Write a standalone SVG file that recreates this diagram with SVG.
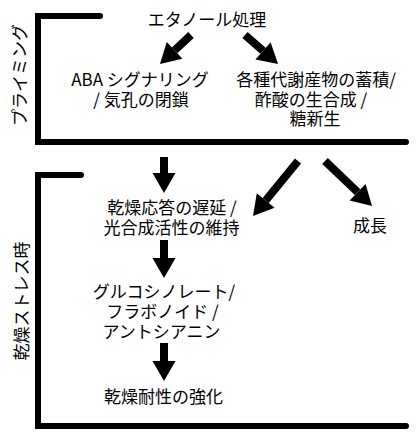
<svg xmlns="http://www.w3.org/2000/svg" width="420" height="440" viewBox="0 0 420 440">
<style>
text{font-family:"Noto Sans CJK JP","Noto Sans",sans-serif;font-size:17px;fill:#000;text-anchor:middle}
.br{fill:none;stroke:#000;stroke-width:6;stroke-linecap:round;stroke-linejoin:miter}
.ar{stroke:#000;stroke-width:8;fill:none;marker-end:url(#ah)}
.vl{dominant-baseline:central}
</style>
<defs>
<marker id="ah" markerUnits="userSpaceOnUse" markerWidth="22" markerHeight="24" refX="0" refY="11.5" orient="auto" overflow="visible">
<path d="M0,0 L20,11.5 L0,23 Z" fill="#000"/>
</marker>
</defs>
<rect width="420" height="440" fill="#fff"/>
<g id="brackets">
<path class="br" d="M100,16 H38 V142 H406"/>
<path class="br" d="M81,175 H38 V426 H406"/>
</g>
<g id="label-priming"><text class="vl" transform="translate(18,75) rotate(-90)">プライミング</text></g>
<g id="label-stress"><text class="vl" transform="translate(20,301) rotate(-90)">乾燥ストレス時</text></g>
<g id="connectors">
<line class="ar" x1="191" y1="35" x2="174.6" y2="50.3"/>
<line class="ar" x1="245" y1="35" x2="263" y2="50.8"/>
<line class="ar" x1="164" y1="157" x2="164" y2="173"/>
<line class="ar" x1="298" y1="161" x2="265.7" y2="200.5"/>
<line class="ar" x1="325" y1="161" x2="357.6" y2="192.2"/>
<line class="ar" x1="164" y1="240" x2="164" y2="258"/>
<line class="ar" x1="164" y1="343" x2="164" y2="361"/>
</g>
<g id="ethanol"><text x="207" y="26">エタノール処理</text></g>
<g id="aba"><text x="140" y="86">ABA シグナリング</text><text x="141" y="106">/ 気孔の閉鎖</text></g>
<g id="metabolites"><text x="316" y="86">各種代謝産物の蓄積/</text><text x="311" y="106">酢酸の生合成 /</text><text x="315" y="125">糖新生</text></g>
<g id="delay"><text x="172" y="214">乾燥応答の遅延 /</text><text x="171.5" y="234">光合成活性の維持</text></g>
<g id="growth"><text x="370" y="232">成長</text></g>
<g id="compounds"><text x="164" y="298">グルコシノレート/</text><text x="162.5" y="318">フラボノイド /</text><text x="161.5" y="338">アントシアニン</text></g>
<g id="tolerance"><text x="163.5" y="403">乾燥耐性の強化</text></g>
</svg>
